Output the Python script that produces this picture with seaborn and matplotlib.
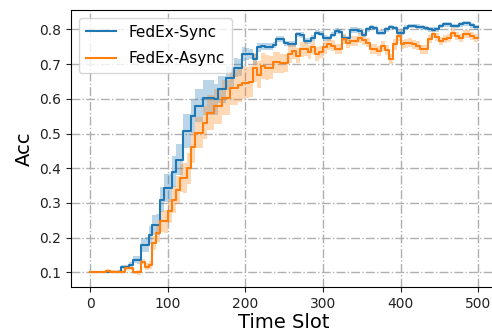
import numpy as np
import pandas as pd
import matplotlib
matplotlib.use("Agg")
import matplotlib.pyplot as plt
import seaborn as sns

# time slots (step 5)
time_slot = list(range(0, 500, 5))

sync_acc = [
    .100, .100, .100, .100, .100, .101, .101, .102, .116, .116,
    .122, .136, .136, .180, .180, .208, .237, .237, .310, .344,
    .344, .390, .425, .425, .507, .507, .550, .580, .580, .603,
    .603, .603, .599, .627, .627, .660, .660, .690, .690, .729,
    .729, .729, .714, .748, .752, .750, .750, .755, .772, .772,
    .760, .758, .758, .786, .784, .767, .767, .775, .791, .788,
    .775, .774, .785, .796, .794, .776, .774, .799, .799, .795,
    .785, .800, .806, .804, .791, .791, .800, .806, .804, .791,
    .791, .805, .810, .810, .808, .806, .804, .800, .799, .800,
    .810, .815, .815, .810, .810, .815, .818, .818, .812, .806,
]

async_acc = [
    .100, .100, .100, .100, .105, .102, .102, .102, .102, .112,
    .112, .100, .100, .131, .117, .122, .184, .213, .247, .247,
    .276, .310, .338, .372, .372, .400, .460, .502, .502, .531,
    .560, .560, .579, .579, .603, .603, .632, .632, .640, .647,
    .647, .650, .690, .670, .695, .690, .690, .705, .705, .702,
    .702, .729, .738, .724, .743, .743, .734, .748, .729, .735,
    .748, .758, .753, .743, .743, .772, .762, .767, .767, .776,
    .770, .762, .743, .743, .738, .753, .740, .715, .757, .781,
    .757, .760, .762, .758, .753, .743, .743, .772, .786, .778,
    .767, .772, .776, .791, .782, .776, .786, .786, .781, .776,
]

sync_spread = [
    .003, .003, .003, .003, .003, .003, .003, .004, .006, .006,
    .008, .010, .012, .020, .022, .025, .028, .030, .035, .040,
    .040, .045, .045, .045, .050, .050, .048, .048, .048, .050,
    .050, .050, .045, .040, .038, .035, .030, .028, .025, .020,
    .018, .015, .015, .012, .010, .010, .010, .009, .009, .009,
    .008, .008, .008, .008, .008, .008, .008, .008, .008, .008,
    .008, .008, .008, .008, .008, .008, .008, .008, .008, .008,
    .007, .007, .007, .007, .007, .007, .007, .007, .007, .007,
    .007, .007, .007, .007, .007, .007, .007, .007, .007, .007,
    .007, .007, .007, .007, .007, .007, .007, .007, .007, .007,
]

async_spread = [
    .003, .003, .003, .003, .004, .004, .004, .004, .004, .005,
    .005, .005, .006, .008, .010, .012, .020, .025, .030, .032,
    .035, .038, .040, .040, .042, .045, .045, .045, .045, .048,
    .050, .050, .050, .050, .050, .050, .050, .050, .048, .048,
    .045, .045, .042, .040, .038, .035, .033, .030, .030, .028,
    .026, .025, .024, .022, .022, .020, .020, .020, .020, .018,
    .018, .016, .016, .015, .015, .015, .015, .015, .015, .015,
    .014, .014, .014, .014, .014, .014, .014, .015, .015, .014,
    .014, .013, .013, .013, .013, .013, .013, .012, .012, .012,
    .012, .012, .012, .012, .012, .012, .012, .012, .012, .012,
]

series_names = ["FedEx-Sync", "FedEx-Async"]
colors = ["#1f77b4", "#ff7f0e"]

fig = plt.figure(figsize=(4.92, 3.36), dpi=100)
ax = fig.add_axes([71 / 492, 49 / 336, (497.5 - 71) / 492, (287 - 10) / 336])

t_ext = time_slot + [500]
frames = []
for name, vals in zip(series_names, [sync_acc, async_acc]):
    frames.append(pd.DataFrame({"Time Slot": t_ext, "Acc": vals + [vals[-1]], "method": name}))
df = pd.concat(frames, ignore_index=True)

sns.lineplot(data=df, x="Time Slot", y="Acc", hue="method", palette=colors,
             drawstyle="steps-post", linewidth=1.5, ax=ax, zorder=3)

for vals, spr, c in zip([sync_acc, async_acc], [sync_spread, async_spread], colors):
    v = np.array(vals + [vals[-1]])
    s = np.array(spr + [spr[-1]])
    ax.fill_between(t_ext, v - s, v + s, step="post", color=c, alpha=0.3, linewidth=0, zorder=2)

ax.set_xlim(-25, 525)
ax.set_ylim(0.058, 0.856)
ax.set_xticks([0, 100, 200, 300, 400, 500])
ax.set_yticks([0.1, 0.2, 0.3, 0.4, 0.5, 0.6, 0.7, 0.8])
ax.grid(True, linestyle="-.", color="#b0b0b0", linewidth=1)
ax.set_axisbelow(True)
ax.tick_params(labelsize=10, colors="#222222")
ax.set_xlabel("Time Slot", fontsize=14, labelpad=2)
ax.set_ylabel("Acc", fontsize=14)

handles, labels = ax.get_legend_handles_labels()
ax.legend(handles, labels, loc="upper left", fontsize=11, frameon=True,
          borderpad=0.45, labelspacing=0.75, handlelength=2.0)

fig.savefig("out.png", dpi=100)
